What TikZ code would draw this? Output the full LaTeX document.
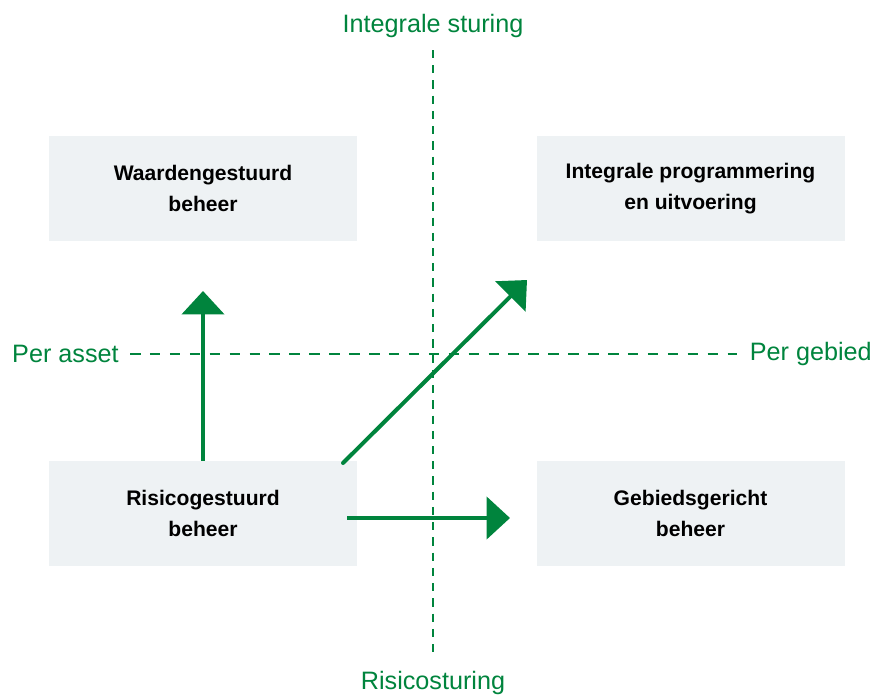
\documentclass[tikz,border=0pt]{standalone}
\usepackage{fontspec}
\setmainfont{Liberation Sans}
\usepackage{xcolor}
\usetikzlibrary{arrows.meta,positioning}
\definecolor{dgreen}{HTML}{00843D}
\definecolor{boxgray}{HTML}{EEF2F4}
\tikzstyle{blok}=[fill=boxgray, minimum width=9.24cm, minimum height=3.15cm, align=center, font=\fontsize{18}{26.5}\selectfont\bfseries, text=black]
\tikzstyle{as}=[dgreen, line width=1.7pt, dash pattern=on 7pt off 6pt]
\tikzstyle{lbl}=[text=dgreen, font=\fontsize{21.5}{26}\selectfont, inner sep=0pt]
\tikzstyle{arr}=[-{Triangle[length=20pt,width=36pt]}, dgreen, line width=3.4pt]

\begin{document}
\begin{tikzpicture}[x=0.03cm, y=-0.03cm]
  \useasboundingbox (0,0) rectangle (873,695);

  % quadrant blocks
  \node[blok] (waarde) at (203,188.5) {Waardengestuurd\\beheer};
  \node[blok] (integr) at (690.5,188.5) {Integrale programmering\\en uitvoering};
  \node[blok] (risico) at (203,513.5) {Risicogestuurd\\beheer};
  \node[blok] (gebied) at (690.5,513.5) {Gebiedsgericht\\beheer};

  % axis labels
  \node[lbl] (top) at (433,26) {Integrale sturing};
  \node[lbl] (bot) at (433,683) {Risicosturing};
  \node[lbl, anchor=west] (left) at (12,354) {Per asset};
  \node[lbl, anchor=east] (right) at (872,354) {Per gebied};

  % dashed axes
  \coordinate (vt) at (433,50);
  \coordinate (vb) at (433,656);
  \coordinate (hl) at (130,354);
  \coordinate (hr) at (737,354);
  \draw[as] (vt) -- (vb);
  \draw[as, dash pattern=on 9pt off 8pt] (hl) -- (hr);

  % arrows
  \coordinate (upend) at (203,291);
  \coordinate (rstart) at (347,518);
  \coordinate (rend) at (510,518);
  \coordinate (dstart) at (343,463);
  \coordinate (dend) at (527,280);
  \draw[arr] (risico.north) -- (upend);
  \draw[arr] (rstart) -- (rend);
  \draw[arr, line cap=round] (dstart) -- (dend);

\end{tikzpicture}
\end{document}
